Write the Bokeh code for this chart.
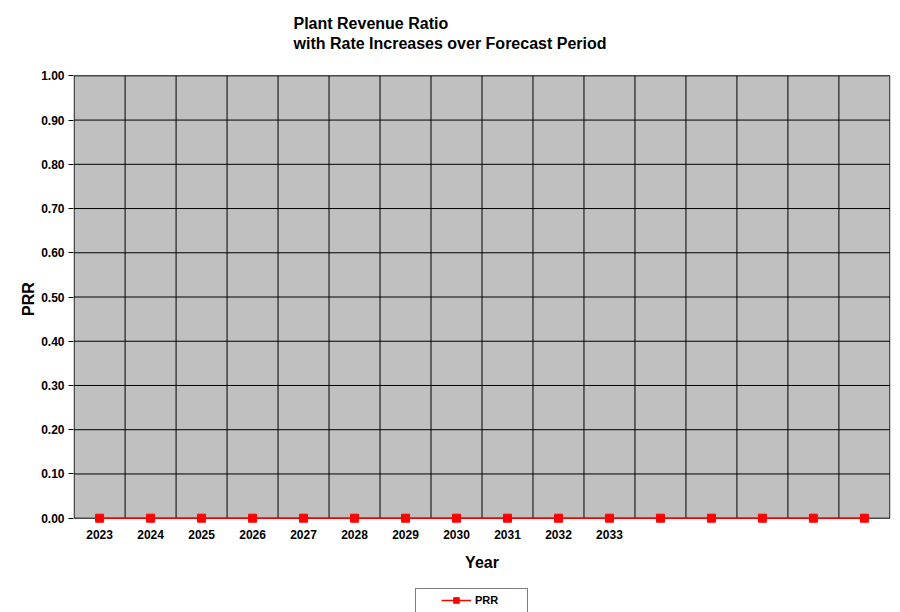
from bokeh.plotting import figure
from bokeh.layouts import column
from bokeh.models import FixedTicker, Range1d, Legend, LegendItem, ColumnDataSource
from bokeh.embed import file_html
from bokeh.resources import INLINE

# ---- data ----
years = ["2023", "2024", "2025", "2026", "2027", "2028", "2029", "2030",
         "2031", "2032", "2033", "", "", "", "", ""]
prr = [0.00, 0.00, 0.00, 0.00, 0.00, 0.00, 0.00, 0.00,
       0.00, 0.00, 0.00, 0.00, 0.00, 0.00, 0.00, 0.00]
y_ticks = [0.0, 0.1, 0.2, 0.3, 0.4, 0.5, 0.6, 0.7, 0.8, 0.9, 1.0]
y_tick_labels = ["0.00", "0.10", "0.20", "0.30", "0.40", "0.50",
                 "0.60", "0.70", "0.80", "0.90", "1.00"]
title_lines = ["Plant Revenue Ratio", "with Rate Increases over Forecast Period"]
series_name = "PRR"

FONT = "Liberation Sans"
GREY = "#C0C0C0"
n = len(years)
xpos = [i + 0.5 for i in range(n)]
src = ColumnDataSource(dict(x=xpos, y=prr, year=years))
y0, y1 = y_ticks[0], y_ticks[-1]

p = figure(width=900, height=586, output_backend="svg", toolbar_location=None,
           x_range=Range1d(-0.012, n + 0.012), y_range=Range1d(y0 - 0.012, y1 + 0.003),
           min_border_left=73, min_border_right=10, min_border_top=74,
           min_border_bottom=63)

p.background_fill_color = "white"
p.border_fill_color = "white"
p.outline_line_color = None
p.xgrid.visible = False
p.ygrid.visible = False

# title (a blank last line lifts the two text lines)
p.title.text = "\n".join(title_lines) + "\n "
p.title.align = "left"
p.title.offset = 220
p.title.text_font = FONT
p.title.text_font_size = "16px"
p.title.text_font_style = "bold"
p.title.text_color = "black"
p.title.standoff = 6
p.title.text_line_height = 1.15

# plot area + grid
p.quad(left=[0], right=[n], bottom=[y0], top=[y1], fill_color=GREY, line_color=None)
vx = list(range(n + 1))
p.segment(x0=vx, y0=[y0] * len(vx), x1=vx, y1=[y1] * len(vx),
          line_color="black", line_width=1)
p.segment(x0=[0] * len(y_ticks), y0=y_ticks, x1=[n] * len(y_ticks), y1=y_ticks,
          line_color="black", line_width=1)

# x axis
xa = p.xaxis[0]
xa.ticker = FixedTicker(ticks=xpos)
xa.major_label_overrides = {xpos[i]: years[i] for i in range(n)}
xa.major_tick_out = 0
xa.major_tick_in = 0
xa.minor_tick_out = 0
xa.minor_tick_in = 0
xa.axis_line_color = None
xa.major_label_text_font = FONT
xa.major_label_text_font_size = "12px"
xa.major_label_text_font_style = "bold"
xa.major_label_text_color = "black"
xa.major_label_standoff = 6
xa.axis_label = "Year"
xa.axis_label_text_font = FONT
xa.axis_label_text_font_size = "16px"
xa.axis_label_text_font_style = "bold"
xa.axis_label_text_color = "black"
xa.axis_label_standoff = 12

# y axis
ya = p.yaxis[0]
ya.ticker = FixedTicker(ticks=y_ticks)
ya.major_label_overrides = {y_ticks[i]: y_tick_labels[i] for i in range(len(y_ticks))}
ya.major_tick_out = 5
ya.major_tick_in = 0
ya.minor_tick_out = 0
ya.minor_tick_in = 0
ya.major_tick_line_color = "black"
ya.axis_line_color = None
ya.major_label_text_font = FONT
ya.major_label_text_font_size = "12px"
ya.major_label_text_font_style = "bold"
ya.major_label_text_color = "black"
ya.major_label_standoff = 4
ya.axis_label = "PRR"
ya.axis_label_text_font = FONT
ya.axis_label_text_font_size = "16px"
ya.axis_label_text_font_style = "bold"
ya.axis_label_text_color = "black"
ya.axis_label_standoff = 1

# series
p.line("x", "y", source=src, line_color="red", line_width=1.5)
p.scatter("x", "y", source=src, marker="square", size=8,
          fill_color="red", line_color="red")

# ---- legend strip (series data kept out of view; only the legend shows) ----
pl = figure(width=900, height=26, output_backend="svg", toolbar_location=None,
            x_axis_type=None, y_axis_type=None, title=None,
            x_range=Range1d(0, n), y_range=Range1d(y1 + 1, y1 + 2),
            min_border=0)
pl.outline_line_color = None
pl.background_fill_color = "white"
pl.border_fill_color = "white"
pl.xgrid.visible = False
pl.ygrid.visible = False
ghost = pl.scatter("x", "y", source=src, marker="square", size=1, alpha=0)
lg_line = pl.line("x", "y", source=src, line_color="red", line_width=1.5)
lg_mark = pl.scatter("x", "y", source=src, marker="square", size=8,
                     fill_color="red", line_color="red")

box = Legend(items=[LegendItem(label=" ", renderers=[ghost])],
             orientation="horizontal", location=(342, -4))
box.padding = 0
box.margin = 0
box.spacing = 0
box.glyph_width = 1
box.glyph_height = 26
box.label_standoff = 0
box.label_width = 110
box.label_height = 26
box.label_text_font_size = "11px"
box.border_line_color = "black"
box.border_line_width = 1
box.background_fill_color = "white"
box.background_fill_alpha = 1
pl.add_layout(box, "center")

leg = Legend(items=[LegendItem(label=series_name, renderers=[lg_line, lg_mark])],
             orientation="horizontal", location=(368, 5))
leg.padding = 0
leg.margin = 0
leg.glyph_width = 30
leg.glyph_height = 14
leg.label_standoff = 4
leg.label_text_font = FONT
leg.label_text_font_size = "11px"
leg.label_text_font_style = "bold"
leg.label_text_color = "black"
leg.border_line_alpha = 0
leg.background_fill_alpha = 0
pl.add_layout(leg, "center")

layout = column(p, pl, spacing=0)
open("out.html", "w").write(file_html(layout, INLINE))
